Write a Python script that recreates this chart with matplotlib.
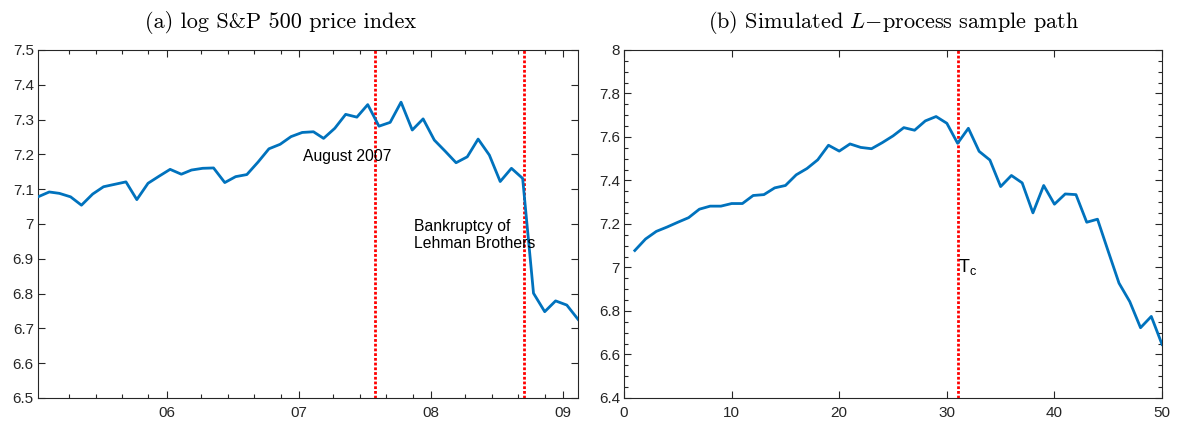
import pandas as pd
import matplotlib.pyplot as plt
import numpy as np

# ---------------------------------------------------------------------------
# DATA
# ---------------------------------------------------------------------------
# (a) monthly log S&P 500, Jan 2005 .. Feb 2009
SP_DATES = pd.date_range("2005-01-01", periods=50, freq="MS") + pd.Timedelta(days=10)
SP_LOG = [
    7.078, 7.092, 7.088, 7.078, 7.054, 7.086, 7.107, 7.114, 7.121, 7.070,
    7.117, 7.137, 7.157, 7.143, 7.155, 7.160, 7.161, 7.119, 7.136, 7.142,
    7.178, 7.216, 7.229, 7.251, 7.263, 7.265, 7.246, 7.275, 7.315, 7.307,
    7.343, 7.281, 7.292, 7.350, 7.270, 7.302, 7.241, 7.208, 7.176, 7.193,
    7.244, 7.198, 7.122, 7.160, 7.131, 6.801, 6.748, 6.779, 6.767, 6.726,
]
EVENT_DATES = [pd.Timestamp("2007-08-01"), pd.Timestamp("2008-09-15")]
EVENT_LABELS = ["August 2007", "Bankruptcy of\nLehman Brothers"]
EVENT_LABEL_POS = [(pd.Timestamp("2007-01-12"), 7.193),
                   (pd.Timestamp("2007-11-17"), 6.968)]
YEAR_TICKS = [pd.Timestamp(f"{y}-01-01") for y in (2006, 2007, 2008, 2009)]
YEAR_LABELS = ["06", "07", "08", "09"]

# (b) simulated L-process sample path
SIM_T = list(range(1, 51))
SIM_PATH = [
    7.078, 7.131, 7.166, 7.186, 7.208, 7.229, 7.268, 7.282, 7.282, 7.294,
    7.294, 7.331, 7.335, 7.366, 7.377, 7.426, 7.455, 7.495, 7.562, 7.535,
    7.568, 7.552, 7.546, 7.574, 7.605, 7.643, 7.631, 7.674, 7.694, 7.663,
    7.571, 7.640, 7.534, 7.494, 7.372, 7.423, 7.389, 7.251, 7.377, 7.291,
    7.338, 7.335, 7.208, 7.222, 7.074, 6.928, 6.843, 6.723, 6.775, 6.646,
]
T_C = 31

# ---------------------------------------------------------------------------
# STYLE
# ---------------------------------------------------------------------------
plt.rcParams["font.family"] = ["Liberation Sans", "DejaVu Sans"]
plt.rcParams["mathtext.fontset"] = "cm"
LINE_COLOR = "#0072BD"
AX_COLOR = "#262626"
TICK_FS = 11
TITLE_FS = 16
TITLE_FONT = ["cmr10", "DejaVu Serif"]
NOTE_FS = 11.3
DOT = (0, (1.0, 0.7))

fig = plt.figure(figsize=(11.77, 4.29), dpi=100)
ax1 = fig.add_axes([0.0323, 0.0723, 0.4588, 0.8112])
ax2 = fig.add_axes([0.5302, 0.0723, 0.4571, 0.8112])

for ax in (ax1, ax2):
    for sp in ax.spines.values():
        sp.set_color(AX_COLOR)
        sp.set_linewidth(0.8)
    ax.tick_params(which="both", direction="in", top=True, right=True,
                   color=AX_COLOR, labelcolor=AX_COLOR, labelsize=TICK_FS,
                   width=0.8)
    ax.tick_params(which="major", length=5)
    ax.tick_params(which="minor", length=3)
    ax.tick_params(axis="x", pad=6)
    ax.tick_params(axis="y", pad=3)

# ---------------------------------------------------------------------------
# (a) S&P 500
# ---------------------------------------------------------------------------
ax1.plot(SP_DATES, SP_LOG, color=LINE_COLOR, linewidth=2.0, zorder=3)
for d in EVENT_DATES:
    ax1.axvline(d, color="red", linestyle=DOT, linewidth=2.0, zorder=2)
for (xd, yv), txt in zip(EVENT_LABEL_POS, EVENT_LABELS):
    ax1.text(xd, yv, txt, fontsize=NOTE_FS, ha="left", va="center",
             color="black", linespacing=1.15, zorder=4)

ax1.set_xlim(SP_DATES[0], SP_DATES[-1])
ax1.set_ylim(6.5, 7.5)
ax1.set_xticks(YEAR_TICKS)
ax1.set_xticklabels(YEAR_LABELS)
minor = pd.date_range("2005-04-07", "2009-02-15", freq="73D")
minor = [d for d in minor
         if min(abs((d - y).days) for y in
                [pd.Timestamp(f"{k}-01-01") for k in range(2005, 2010)]) > 30]
ax1.set_xticks(minor, minor=True)
yt1 = np.round(np.arange(6.5, 7.51, 0.1), 1)
ax1.set_yticks(yt1)
ax1.set_yticklabels([f"{v:g}" for v in yt1])
ax1.set_title("(a) log S&P 500 price index", family=TITLE_FONT,
              fontsize=TITLE_FS, pad=16, color="black", x=0.45)

# ---------------------------------------------------------------------------
# (b) simulated path
# ---------------------------------------------------------------------------
ax2.plot(SIM_T, SIM_PATH, color=LINE_COLOR, linewidth=2.0, zorder=3)
ax2.axvline(T_C, color="red", linestyle=DOT, linewidth=2.0, zorder=2)
ax2.text(T_C, 7.0, r"$\mathregular{T_c}$", fontsize=13, ha="left",
         va="center", color="black")

ax2.set_xlim(0, 50)
ax2.set_ylim(6.4, 8.0)
ax2.set_xticks(range(0, 51, 10))
yt2 = np.round(np.arange(6.4, 8.01, 0.2), 1)
ax2.set_yticks(yt2)
ax2.set_yticklabels([f"{v:g}" for v in yt2])
ax2.set_yticks(np.arange(6.4, 8.001, 0.05), minor=True)
ax2.set_title(r"(b) Simulated $L{-}$process sample path", family=TITLE_FONT,
              fontsize=TITLE_FS, pad=16, color="black")

fig.savefig("out.png", dpi=100)
plt.close(fig)
